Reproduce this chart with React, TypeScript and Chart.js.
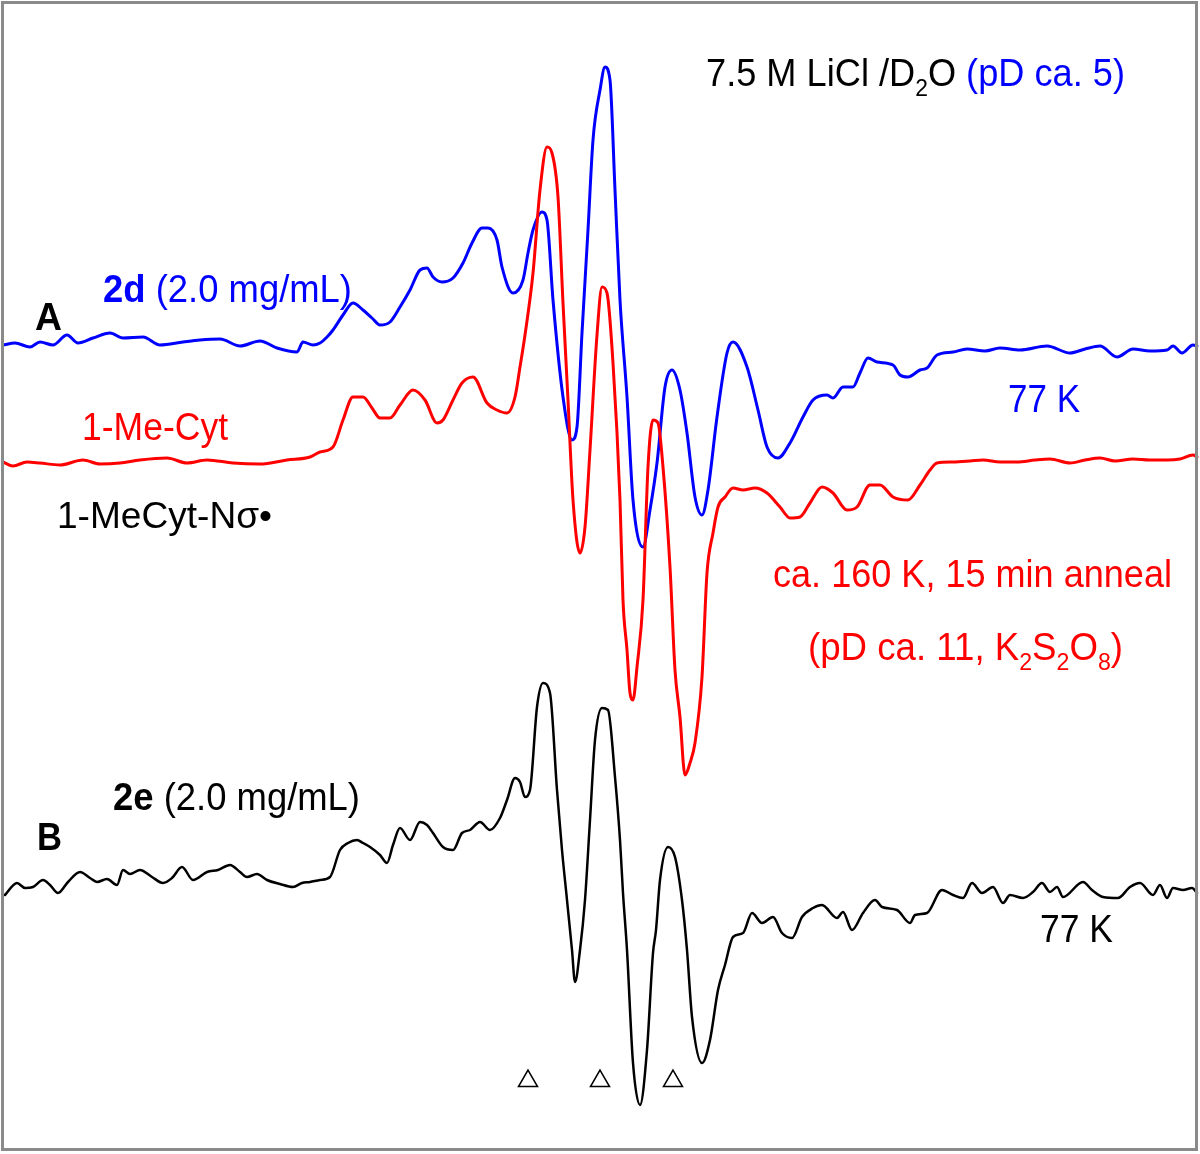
import React, { useEffect, useRef } from "react";
import { Chart, registerables } from "chart.js";

Chart.register(...registerables);

const W = 1200;
const H = 1154;

// Field positions (x) and signal intensities (up = positive)
const blueX = [3, 15, 30, 40, 53, 67, 78, 93, 110, 123, 143, 160, 183, 200, 220, 240, 260, 277, 297, 303, 313, 320, 327, 333, 343, 353, 363, 372, 380, 390, 400, 410, 420, 427, 433, 442, 453, 463, 472, 482, 488, 497, 502, 513, 523, 528, 533, 542, 547, 553, 563, 572, 577, 582, 588, 593, 600, 605, 610, 615, 620, 627, 633, 643, 650, 657, 665, 672, 680, 687, 695, 702, 708, 717, 727, 733, 747, 758, 767, 778, 790, 803, 813, 827, 833, 843, 853, 860, 868, 877, 893, 900, 908, 920, 927, 937, 953, 967, 985, 1000, 1020, 1047, 1070, 1085, 1100, 1117, 1133, 1150, 1167, 1173, 1182, 1193, 1197];
const blueI = [0, 2, -2, 3, 0, 10, 2, 7, 12, 7, 8, 0, 3, 5, 6, -1, 4, -3, -7, 3, 0, 2, 8, 15, 30, 42, 35, 27, 20, 23, 38, 55, 75, 77, 68, 63, 67, 82, 102, 117, 117, 105, 78, 52, 65, 92, 115, 133, 125, 45, -52, -95, -82, 12, 115, 205, 255, 278, 265, 155, 45, -52, -155, -202, -165, -118, -42, -25, -45, -88, -152, -170, -145, -72, -8, 3, -22, -65, -102, -113, -98, -72, -55, -50, -53, -42, -42, -28, -13, -17, -20, -30, -32, -25, -23, -10, -7, -4, -6, -3, -5, -1, -8, -4, -1, -12, -4, -6, -5, -1, -8, 0, -1];

const redX = [3, 13, 27, 40, 60, 83, 100, 120, 140, 167, 187, 207, 233, 260, 287, 310, 320, 333, 343, 353, 363, 372, 380, 390, 400, 413, 425, 437, 443, 453, 462, 473, 487, 497, 507, 515, 520, 525, 533, 540, 547, 552, 558, 563, 568, 573, 580, 585, 590, 597, 602, 607, 613, 620, 623, 627, 630, 633, 637, 643, 648, 653, 658, 663, 670, 675, 680, 685, 690, 695, 702, 707, 713, 718, 725, 733, 743, 755, 767, 780, 790, 800, 810, 822, 833, 847, 857, 870, 880, 893, 908, 920, 930, 937, 953, 970, 983, 1000, 1017, 1035, 1050, 1070, 1085, 1100, 1115, 1133, 1150, 1167, 1180, 1193, 1197];
const redI = [1, -3, 1, 0, -2, 3, -1, 0, 3, 5, 0, 3, 0, -1, 3, 6, 11, 16, 43, 66, 66, 55, 45, 45, 58, 73, 63, 40, 43, 63, 80, 86, 60, 53, 50, 66, 96, 128, 190, 273, 316, 310, 266, 160, 63, -37, -90, -64, 13, 128, 176, 170, 100, -37, -137, -187, -230, -237, -204, -137, -4, 43, 40, -4, -104, -207, -254, -312, -300, -280, -214, -110, -70, -44, -34, -25, -27, -25, -30, -44, -55, -54, -40, -24, -30, -47, -44, -22, -22, -34, -37, -22, -7, 0, 1, 2, 3, 1, 1, 3, 4, 0, 3, 5, 2, 4, 3, 3, 4, 8, 6];

const blackX = [5, 17, 25, 33, 43, 50, 58, 68, 80, 90, 97, 107, 117, 123, 130, 140, 152, 163, 172, 182, 193, 207, 218, 230, 240, 247, 257, 267, 280, 293, 302, 310, 320, 330, 340, 348, 357, 363, 370, 380, 387, 393, 400, 410, 420, 427, 433, 443, 453, 462, 470, 480, 490, 500, 507, 515, 520, 525, 530, 537, 543, 550, 557, 562, 567, 572, 575, 580, 585, 590, 595, 602, 608, 615, 620, 623, 627, 633, 640, 647, 653, 656, 660, 668, 675, 682, 687, 692, 702, 710, 718, 725, 733, 743, 752, 762, 773, 782, 792, 802, 813, 822, 837, 843, 852, 863, 875, 882, 897, 910, 915, 927, 942, 953, 963, 972, 982, 993, 1003, 1010, 1023, 1033, 1042, 1050, 1057, 1063, 1083, 1092, 1103, 1118, 1130, 1140, 1153, 1160, 1167, 1173, 1183, 1192, 1197];
const blackI = [-10, 2, -3, -2, 5, 0, -8, 3, 13, 7, 3, 6, 0, 15, 11, 15, 8, 2, 7, 18, 5, 13, 15, 20, 13, 8, 11, 5, 1, -2, 2, 3, 5, 8, 35, 42, 45, 42, 38, 30, 22, 40, 57, 45, 63, 60, 52, 38, 35, 52, 55, 63, 55, 67, 85, 107, 103, 88, 95, 178, 202, 192, 95, 35, -15, -65, -97, -65, -15, 65, 145, 177, 175, 108, 45, -8, -65, -178, -220, -165, -68, -45, 5, 38, 28, -15, -65, -132, -178, -155, -105, -80, -52, -48, -28, -38, -32, -48, -53, -32, -23, -20, -33, -27, -45, -28, -15, -22, -25, -38, -30, -28, -5, -10, -13, 2, -8, -2, -18, -10, -13, -7, 2, -7, -2, -12, 3, -5, -12, -13, -2, 2, -10, 0, -13, -3, -5, -3, -8];

// Baseline offsets of the stacked spectra (in the same units as the canvas scale)
const blueBase = 345;
const redBase = 463;
const blackBase = 885;

// Open triangle markers under spectrum B
const markerX = [528, 600, 673];
const markerLevel = -196;

type Seg = { t: string; c: string; b?: boolean; sub?: boolean };
type Label = { segs: Seg[]; x: number; y: number; w: number; size: number };

const BLUE = "#0000ff";
const RED = "#ff0000";
const BLACK = "#000000";

const labels: Label[] = [
  {
    segs: [
      { t: "7.5 M LiCl /D", c: BLACK },
      { t: "2", c: BLACK, sub: true },
      { t: "O ", c: BLACK },
      { t: "(pD ca. 5)", c: BLUE },
    ],
    x: 706, y: 86, w: 419, size: 38,
  },
  { segs: [{ t: "2d", c: BLUE, b: true }, { t: " (2.0 mg/mL)", c: BLUE }], x: 103, y: 302, w: 249, size: 38 },
  { segs: [{ t: "A", c: BLACK, b: true }], x: 35, y: 330, w: 27, size: 38 },
  { segs: [{ t: "1-Me-Cyt", c: RED }], x: 82, y: 440, w: 146, size: 38 },
  { segs: [{ t: "77 K", c: BLUE }], x: 1008, y: 412, w: 72, size: 38 },
  { segs: [{ t: "1-MeCyt-Nσ•", c: BLACK }], x: 57, y: 528, w: 215, size: 36 },
  { segs: [{ t: "ca. 160 K, 15 min anneal", c: RED }], x: 773, y: 587, w: 399, size: 38 },
  {
    segs: [
      { t: "(pD ca. 11, K", c: RED },
      { t: "2", c: RED, sub: true },
      { t: "S", c: RED },
      { t: "2", c: RED, sub: true },
      { t: "O", c: RED },
      { t: "8", c: RED, sub: true },
      { t: ")", c: RED },
    ],
    x: 808, y: 660, w: 315, size: 38,
  },
  { segs: [{ t: "2e", c: BLACK, b: true }, { t: " (2.0 mg/mL)", c: BLACK }], x: 113, y: 810, w: 247, size: 38 },
  { segs: [{ t: "B", c: BLACK, b: true }], x: 37, y: 850, w: 25, size: 38 },
  { segs: [{ t: "77 K", c: BLACK }], x: 1040, y: 942, w: 73, size: 38 },
];

const FAMILY = '"Liberation Sans", Arial, Helvetica, sans-serif';

function fontFor(s: Seg, size: number) {
  const sz = s.sub ? Math.round(size * 0.62) : size;
  return `${s.b ? "bold " : ""}${sz}px ${FAMILY}`;
}

const labelPlugin = {
  id: "textLabels",
  afterDraw(chart: any) {
    const ctx: CanvasRenderingContext2D = chart.ctx;
    ctx.save();
    // frame
    ctx.strokeStyle = "#8a8a8a";
    ctx.lineWidth = 3;
    ctx.strokeRect(2.5, 2.5, 1194, 1147);
    ctx.textBaseline = "alphabetic";
    ctx.textAlign = "left";
    for (const lab of labels) {
      let total = 0;
      const widths: number[] = [];
      for (const s of lab.segs) {
        ctx.font = fontFor(s, lab.size);
        const m = ctx.measureText(s.t).width;
        widths.push(m);
        total += m;
      }
      const sx = lab.w / total;
      ctx.save();
      ctx.translate(lab.x, lab.y);
      ctx.scale(sx, 1);
      let cx = 0;
      lab.segs.forEach((s, i) => {
        ctx.font = fontFor(s, lab.size);
        ctx.fillStyle = s.c;
        ctx.fillText(s.t, cx, s.sub ? lab.size * 0.26 : 0);
        cx += widths[i];
      });
      ctx.restore();
    }
    ctx.restore();
  },
};

function series(xs: number[], is: number[], base: number) {
  return xs.map((x, i) => ({ x, y: is[i] - base }));
}

export default function App() {
  const ref = useRef<HTMLCanvasElement | null>(null);
  useEffect(() => {
    document.body.style.margin = "0";
    document.body.style.background = "#ffffff";
    const canvas = ref.current;
    if (!canvas) return;
    const lineCommon = {
      pointRadius: 0,
      cubicInterpolationMode: "monotone",
      fill: false,
      clip: false,
      borderJoinStyle: "round",
      borderCapStyle: "round",
    };
    const chart = new Chart(canvas, {
      type: "line",
      data: {
        datasets: [
          {
            label: "1-Me-Cyt",
            data: series(redX, redI, redBase),
            borderColor: RED,
            borderWidth: 3,
            ...lineCommon,
          } as any,
          {
            label: "2d",
            data: series(blueX, blueI, blueBase),
            borderColor: BLUE,
            borderWidth: 3,
            ...lineCommon,
          } as any,
          {
            label: "2e",
            data: series(blackX, blackI, blackBase),
            borderColor: BLACK,
            borderWidth: 2.5,
            ...lineCommon,
          } as any,
          {
            type: "scatter",
            label: "markers",
            data: markerX.map((x) => ({ x, y: markerLevel - blackBase })),
            showLine: false,
            pointStyle: "triangle",
            pointRadius: 11,
            borderColor: BLACK,
            borderWidth: 1.5,
            backgroundColor: "#ffffff",
            clip: false,
          } as any,
        ],
      },
      options: {
        responsive: false,
        maintainAspectRatio: false,
        animation: false,
        devicePixelRatio: 1,
        events: [],
        layout: { padding: 0, autoPadding: false },
        plugins: { legend: { display: false }, tooltip: { enabled: false } },
        scales: {
          x: { type: "linear", display: false, min: 0, max: W },
          y: { type: "linear", display: false, min: -H, max: 0 },
        },
      } as any,
      plugins: [labelPlugin],
    });
    return () => chart.destroy();
  }, []);
  return (
    <div style={{ width: W, height: H, background: "#fff" }}>
      <canvas ref={ref} width={W} height={H} style={{ display: "block", width: W, height: H }} />
    </div>
  );
}
